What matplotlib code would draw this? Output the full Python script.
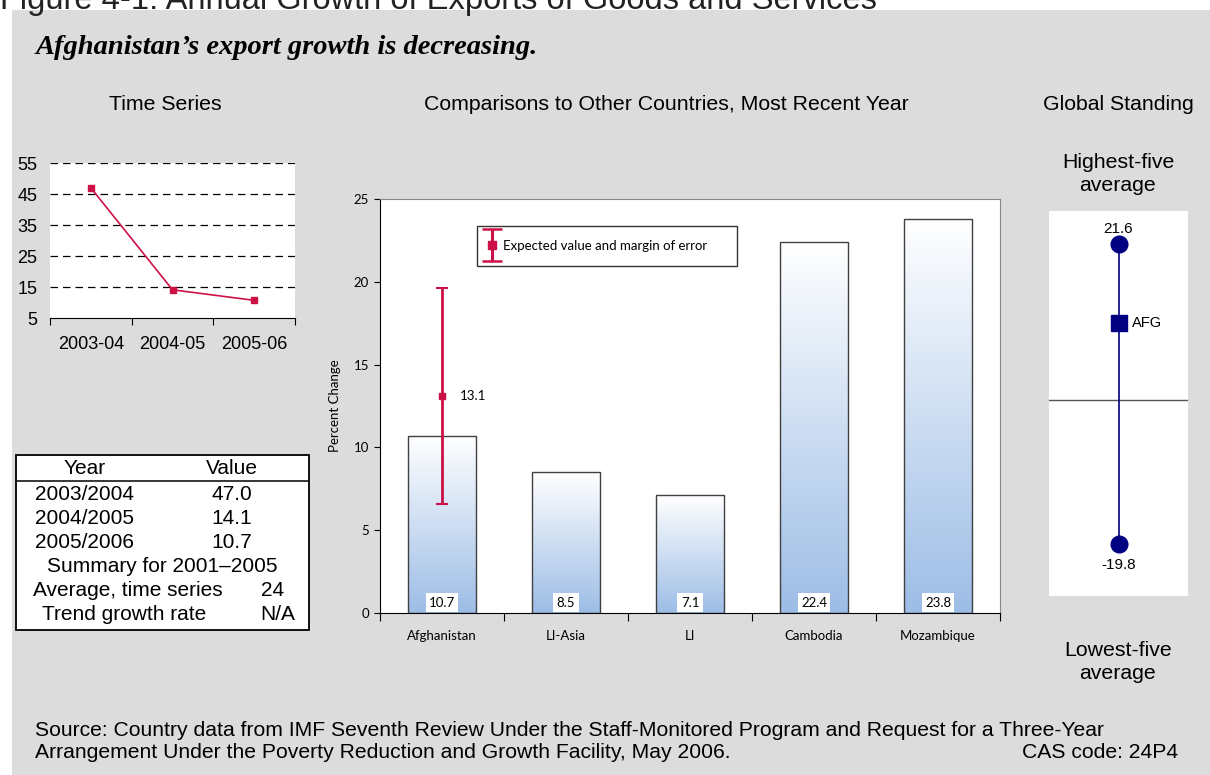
import numpy as np
import matplotlib
matplotlib.use("Agg")
import matplotlib.pyplot as plt
from matplotlib.colors import LinearSegmentedColormap
from matplotlib.patches import Rectangle

W, H = 1210, 775

# Данные: временной ряд
years = ['2003-04', '2004-05', '2005-06']
growth = [47.0, 14.1, 10.7]

# Таблица
table_years = ['2003/2004', '2004/2005', '2005/2006']
table_values = [47.0, 14.1, 10.7]
avg_series = '24'
trend_rate = 'N/A'

# Сравнение со странами
countries = ['Afghanistan', 'LI-Asia', 'LI', 'Cambodia', 'Mozambique']
recent = [10.7, 8.5, 7.1, 22.4, 23.8]

expected = 13.1
expected_low = 6.6
expected_high = 19.6

# Глобальная позиция
top_five = 21.6
bottom_five = -19.8
afg_value = 10.7

RED = '#CC1146'
NAVY = '#000080'
BG = '#DCDCDC'
SANS = ['Liberation Sans', 'DejaVu Sans']
GILL = ['Lato', 'DejaVu Sans']

plt.rcParams['font.family'] = SANS


def px_axes(fig, x0, y0, x1, y1, **kw):
    # оси по пиксельным координатам (от верхнего левого угла)
    return fig.add_axes([x0 / W, 1 - y1 / H, (x1 - x0) / W, (y1 - y0) / H], **kw)


fig = plt.figure(figsize=(W / 100, H / 100), dpi=100)
fig.patches.append(Rectangle((12 / W, 0), 1 - 12 / W, 1 - 10 / H,
                             transform=fig.transFigure, fc=BG, ec='none', zorder=-10))

# Слой для подписей и таблицы
ov = fig.add_axes([0, 0, 1, 1], zorder=5)
ov.set_xlim(0, W)
ov.set_ylim(H, 0)
ov.axis('off')

ov.text(0, 9, 'Figure 4-1: Annual Growth of Exports of Goods and Services',
        fontsize=23.5, va='baseline', color='#222222')
ov.text(35, 47, 'Afghanistan\u2019s export growth is decreasing.', fontsize=20.5,
        fontweight='bold', fontstyle='italic', family=['Liberation Serif'], va='center')

ov.text(165, 104, 'Time Series', ha='center', va='center', fontsize=15.3)
ov.text(666, 104, 'Comparisons to Other Countries, Most Recent Year',
        ha='center', va='center', fontsize=15.3)
ov.text(1118, 104, 'Global Standing', ha='center', va='center', fontsize=15.3)

# --- Временной ряд ---
ts = px_axes(fig, 50, 163, 295, 318)
x = np.arange(len(years))
for v in range(15, 56, 10):
    ts.axhline(v, color='black', lw=0.9, dashes=(6, 4), zorder=0)
ts.plot(x, growth, color=RED, lw=1.2, marker='s', ms=4, zorder=3)
ts.set_xlim(-0.5, 2.5)
ts.set_ylim(5, 55)
ts.set_yticks(range(5, 56, 10))
for s in ['top', 'right', 'left']:
    ts.spines[s].set_visible(False)
ts.spines['bottom'].set_color('black')
ts.set_xticks(np.arange(-0.5, 3, 1))
ts.set_xticklabels([])
ts.set_xticks(x, minor=True)
ts.set_xticklabels(years, minor=True)
ts.tick_params(axis='x', which='major', length=5, direction='out', color='black')
ts.tick_params(axis='x', which='minor', length=0, pad=13, labelsize=13)
ts.tick_params(axis='y', length=0, pad=9, labelsize=13)

# --- Таблица ---
ov.add_patch(Rectangle((16, 455), 293, 175, fc='white', ec='black', lw=1.3))
ov.hlines(481, 16, 309, color='black', lw=1.1)
ov.text(85, 468, 'Year', ha='center', va='center', fontsize=15)
ov.text(232, 468, 'Value', ha='center', va='center', fontsize=15)
for i, (yr, val) in enumerate(zip(table_years, table_values)):
    ty = 494 + i * 24.5
    ov.text(85, ty, yr, ha='center', va='center', fontsize=15)
    ov.text(232, ty, f'{val:.1f}', ha='center', va='center', fontsize=15)
ov.text(162, 567, 'Summary for 2001\u20132005', ha='center', va='center', fontsize=15)
ov.text(128, 591, 'Average, time series', ha='center', va='center', fontsize=15)
ov.text(284, 591, avg_series, ha='right', va='center', fontsize=15)
ov.text(124, 615, 'Trend growth rate', ha='center', va='center', fontsize=15)
ov.text(295, 615, trend_rate, ha='right', va='center', fontsize=15)

# --- Столбцы ---
bx = px_axes(fig, 380, 199, 1000, 613)
pos = np.arange(len(countries))
bw = 0.55
cmap = LinearSegmentedColormap.from_list('barfade', ['#9DBDE6', '#FFFFFF'])
grad = np.linspace(0, 1, 256).reshape(-1, 1)
for p, v in zip(pos, recent):
    bx.imshow(grad, extent=[p - bw / 2, p + bw / 2, 0, v], origin='lower',
              cmap=cmap, aspect='auto', zorder=1)
bx.bar(pos, recent, width=bw, fill=False, edgecolor='#404040', lw=1, zorder=2)
for p, v in zip(pos, recent):
    bx.annotate(f'{v:.1f}', (p, 0), xytext=(0, 7.5), textcoords='offset points',
                ha='center', va='center', fontsize=9.5, family=GILL, zorder=3,
                bbox=dict(boxstyle='square,pad=0.25', fc='white', ec='none'))

bx.errorbar(0, expected, yerr=[[expected - expected_low], [expected_high - expected]],
            fmt='s', color=RED, ms=5, elinewidth=2, capsize=4, capthick=1.5, zorder=4)
bx.annotate(f'{expected:.1f}', (0, expected), xytext=(13, 0), textcoords='offset points',
            ha='left', va='center', fontsize=9.5, family=GILL)

# легенда: рамка, значок и подпись
ov.add_patch(Rectangle((477, 226), 260, 40, fc='white', ec='#333333', lw=1))
ov.errorbar(492, 245, yerr=16, fmt='s', color=RED, ms=6, elinewidth=2.2,
            capsize=7, capthick=1.8)
ov.text(503, 246, 'Expected value and margin of error', va='center',
        fontsize=9.5, family=GILL)

bx.set_xlim(-0.5, 4.5)
bx.set_ylim(0, 25)
bx.set_yticks(range(0, 26, 5))
bx.spines['top'].set_color('#888888')
bx.spines['right'].set_color('#888888')
bx.spines['left'].set_color('black')
bx.spines['bottom'].set_color('black')
bx.set_xticks(np.arange(-0.5, 5, 1))
bx.set_xticklabels([])
bx.set_xticks(pos, minor=True)
bx.set_xticklabels(countries, minor=True)
bx.tick_params(axis='x', which='major', length=6, direction='out')
bx.tick_params(axis='x', which='minor', length=0, pad=12, labelsize=9.5, labelfontfamily=GILL)
bx.tick_params(axis='y', length=4, direction='out', pad=4, labelsize=9.5, labelfontfamily=GILL)
bx.set_ylabel('Percent Change', fontsize=9.5, family=GILL)
bx.yaxis.set_label_coords((341 - 380) / 620, 0.5)

# --- Глобальная позиция ---
gx = px_axes(fig, 1049, 211, 1188, 596)
gx.set_xlim(-1, 1)
gx.set_ylim(-26.98, 26.15)
gx.axhline(0, color='#555555', lw=1)
gx.plot([0, 0], [bottom_five, top_five], color=NAVY, lw=1.2)
gx.plot([0, 0], [bottom_five, top_five], 'o', ms=12, color=NAVY)
gx.plot(0, afg_value, 's', ms=11, color=NAVY)
gx.annotate(f'{top_five:.1f}', (0, top_five), xytext=(0, 11), textcoords='offset points',
            ha='center', va='center', fontsize=11)
gx.annotate(f'{bottom_five:.1f}', (0, bottom_five), xytext=(0, -15), textcoords='offset points',
            ha='center', va='center', fontsize=11)
gx.annotate('AFG', (0, afg_value), xytext=(9.5, 0), textcoords='offset points',
            ha='left', va='center', fontsize=10.5)
gx.set_xticks([])
gx.set_yticks([])
for s in gx.spines.values():
    s.set_visible(False)

ov.text(1118, 174, 'Highest-five\naverage', ha='center', va='center', fontsize=15.3, linespacing=1.25)
ov.text(1118, 662, 'Lowest-five\naverage', ha='center', va='center', fontsize=15.3, linespacing=1.25)

# --- Источник ---
ov.text(35, 731, 'Source: Country data from IMF Seventh Review Under the Staff-Monitored Program '
        'and Request for a Three-Year', va='center', fontsize=15.2)
ov.text(35, 752, 'Arrangement Under the Poverty Reduction and Growth Facility, May 2006.',
        va='center', fontsize=15.2)
ov.text(1178, 752, 'CAS code: 24P4', ha='right', va='center', fontsize=15.2)

fig.savefig('out.png', dpi=100)
